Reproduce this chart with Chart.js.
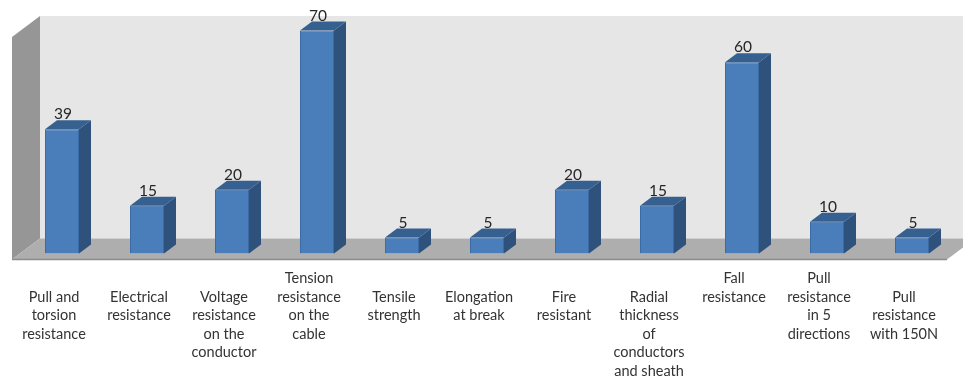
<!DOCTYPE html>
<html>
<head>
<meta charset="utf-8">
<title>Cable test results</title>
<script src="https://cdn.jsdelivr.net/npm/chart.js@4"></script>
<style>
  html, body { margin: 0; padding: 0; background: #fff; }
  #wrap { width: 963px; height: 376px; }
</style>
</head>
<body>
<div id="wrap"><canvas id="testChart"></canvas></div>
<script>
// Leading empty strings push a label down one line
const categories = [
  ['', 'Pull and', 'torsion', 'resistance'],
  ['', 'Electrical', 'resistance'],
  ['', 'Voltage', 'resistance', 'on the', 'conductor'],
  ['Tension', 'resistance', 'on the', 'cable'],
  ['', 'Tensile', 'strength'],
  ['', 'Elongation', 'at break'],
  ['', 'Fire', 'resistant'],
  ['', 'Radial', 'thickness', 'of', 'conductors', 'and sheath'],
  ['Fall', 'resistance'],
  ['Pull', 'resistance', 'in 5', 'directions'],
  ['', 'Pull', 'resistance', 'with 150N']
];
const values = [39, 15, 20, 70, 5, 5, 20, 15, 60, 10, 5];

const DEPTH_X = 12;
const DEPTH_Y = 9;

// Back wall, side wall and floor of the 3D box
const boxPlugin = {
  id: 'box',
  beforeDraw(chart) {
    const { ctx, width, chartArea } = chart;
    const base = chartArea.bottom;
    const frontY = base + 6;
    const backY = base - 15;
    const wallTop = 16;
    const backX = 40;
    const frontX = 12;

    ctx.save();
    ctx.fillStyle = '#e6e6e6';
    ctx.fillRect(backX, wallTop, width - backX, backY - wallTop);

    ctx.fillStyle = '#969696';
    ctx.beginPath();
    ctx.moveTo(frontX, wallTop + 21);
    ctx.lineTo(backX, wallTop);
    ctx.lineTo(backX, backY);
    ctx.lineTo(frontX, frontY);
    ctx.closePath();
    ctx.fill();

    ctx.fillStyle = '#aeaeae';
    ctx.beginPath();
    ctx.moveTo(frontX, frontY);
    ctx.lineTo(backX, backY);
    ctx.lineTo(width + 12, backY);
    ctx.lineTo(width - 16, frontY);
    ctx.closePath();
    ctx.fill();

    ctx.strokeStyle = '#8c8c8c';
    ctx.lineWidth = 1.5;
    ctx.beginPath();
    ctx.moveTo(frontX, frontY);
    ctx.lineTo(width - 16, frontY);
    ctx.stroke();
    ctx.restore();
  }
};

// Top and side faces of each bar, placed from the bar elements
const bar3dPlugin = {
  id: 'bar3d',
  beforeDatasetsDraw(chart) {
    const { ctx } = chart;
    ctx.save();
    chart.getDatasetMeta(0).data.forEach((bar) => {
      const left = bar.x - bar.width / 2;
      const right = bar.x + bar.width / 2;

      ctx.fillStyle = '#2f527c';
      ctx.beginPath();
      ctx.moveTo(right, bar.y);
      ctx.lineTo(right + DEPTH_X, bar.y - DEPTH_Y);
      ctx.lineTo(right + DEPTH_X, bar.base - DEPTH_Y);
      ctx.lineTo(right, bar.base);
      ctx.closePath();
      ctx.fill();

      ctx.fillStyle = '#36608f';
      ctx.beginPath();
      ctx.moveTo(left, bar.y);
      ctx.lineTo(left + DEPTH_X, bar.y - DEPTH_Y);
      ctx.lineTo(right + DEPTH_X, bar.y - DEPTH_Y);
      ctx.lineTo(right, bar.y);
      ctx.closePath();
      ctx.fill();
    });
    ctx.restore();
  },
  afterDatasetsDraw(chart) {
    const { ctx } = chart;
    ctx.save();
    ctx.fillStyle = '#262626';
    ctx.font = '15.5px Lato';
    ctx.textAlign = 'center';
    ctx.textBaseline = 'alphabetic';
    chart.getDatasetMeta(0).data.forEach((bar, i) => {
      ctx.fillText(values[i], bar.x + 1, bar.y - 10);
    });
    ctx.restore();
  }
};

new Chart(document.getElementById('testChart'), {
  type: 'bar',
  data: {
    labels: categories,
    datasets: [{
      data: values,
      backgroundColor: '#4a7ebb',
      borderColor: '#3b6ba5',
      borderWidth: 1,
      barPercentage: 0.4,
      categoryPercentage: 1
    }]
  },
  options: {
    responsive: true,
    maintainAspectRatio: false,
    animation: false,
    layout: { padding: { left: 19.5, right: 8.5, top: 30.5, bottom: 0 } },
    plugins: {
      legend: { display: false },
      tooltip: { enabled: false }
    },
    scales: {
      x: {
        grid: { display: false },
        border: { display: false },
        afterFit(scale) { scale.height = 122.5; },
        ticks: {
          autoSkip: false,
          maxRotation: 0,
          padding: 8,
          labelOffset: -8,
          color: '#333',
          font: { family: 'Lato', size: 14.5, lineHeight: '18.5px' }
        }
      },
      y: {
        display: false,
        min: 0,
        max: 70
      }
    }
  },
  plugins: [boxPlugin, bar3dPlugin]
});
</script>
</body>
</html>
